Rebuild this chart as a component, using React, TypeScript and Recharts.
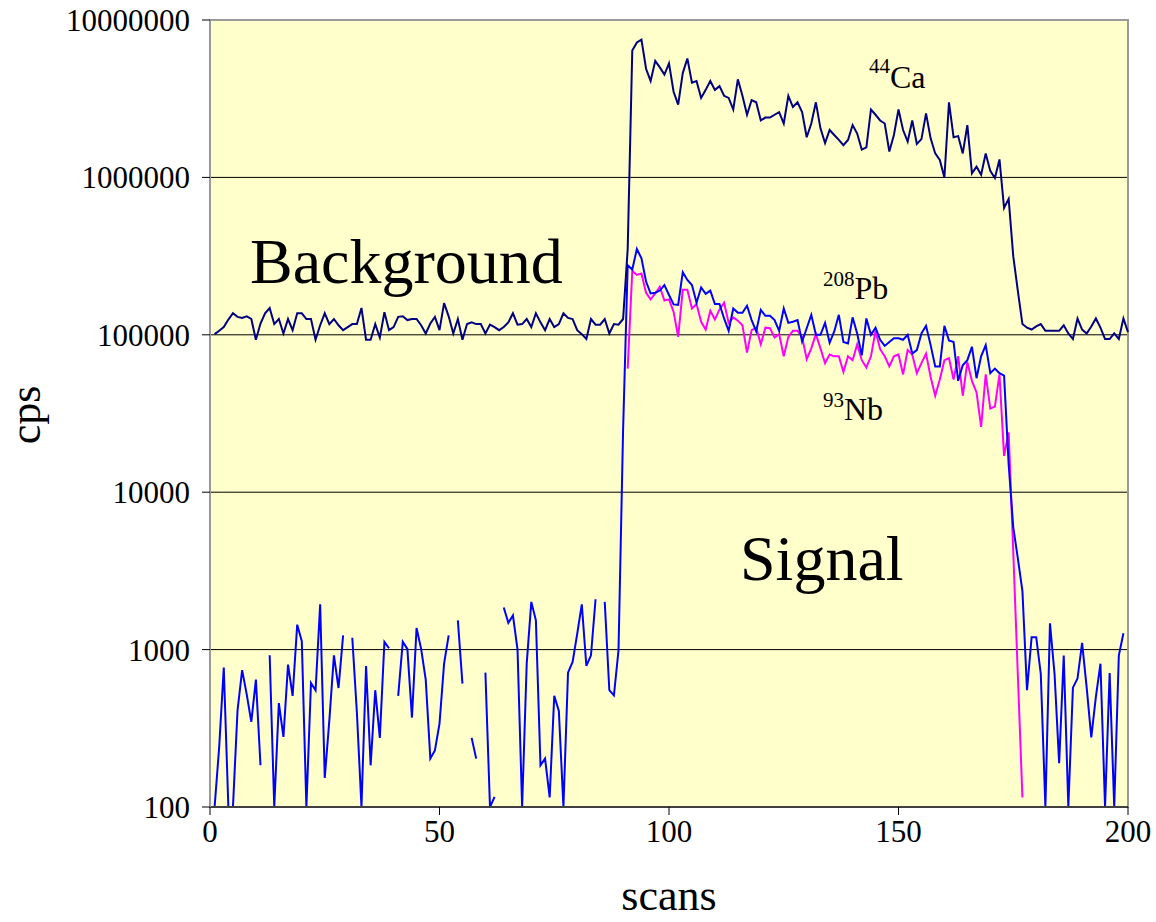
import { LineChart, Line, XAxis, YAxis, CartesianGrid, ReferenceArea } from 'recharts'

const SERIF = '"Liberation Serif", "Times New Roman", serif'

// scan numbers 1..200
const SCANS: number[] = Array.from({ length: 200 }, (_, i) => i + 1)

// 44Ca, scans 1-200
const CA44: number[] = [
  101000, 106000, 112000, 125000, 137000, 130000, 128000, 131000, 126000, 93000,
  118000, 137000, 148000, 117000, 126000, 102000, 126000, 107000, 137000, 137000,
  126000, 126000, 93000, 115000, 137000, 117000, 126000, 115000, 107000, 112000,
  117000, 117000, 148000, 93000, 93000, 117000, 96000, 139000, 107000, 112000,
  130000, 131000, 124000, 126000, 126000, 115000, 102000, 118000, 130000, 107000,
  159000, 131000, 102000, 126000, 93000, 117000, 120000, 117000, 117000, 102000,
  116000, 112000, 107000, 112000, 120000, 137000, 116000, 117000, 126000, 112000,
  137000, 120000, 107000, 126000, 112000, 117000, 137000, 128000, 126000, 107000,
  101000, 94000, 126000, 116000, 116000, 126000, 102000, 117000, 116000, 126000,
  350000, 6400000, 7200000, 7500000, 4900000, 4100000, 5500000, 5000000, 4500000, 5300000,
  3500000, 2900000, 4600000, 5700000, 4000000, 4100000, 3200000, 3600000, 4100000, 3600000,
  3800000, 3300000, 3200000, 2700000, 4200000, 3300000, 2500000, 3100000, 3000000, 2300000,
  2400000, 2400000, 2500000, 2600000, 2200000, 3300000, 2800000, 3000000, 2600000, 1800000,
  2200000, 3000000, 2050000, 1650000, 2000000, 1860000, 1730000, 1600000, 1730000, 2150000,
  1900000, 1500000, 1550000, 2700000, 2500000, 2300000, 2200000, 1460000, 1860000, 2700000,
  2000000, 1690000, 2300000, 1630000, 1750000, 2550000, 1770000, 1420000, 1290000, 1000000,
  3000000, 1800000, 1830000, 1420000, 2150000, 1060000, 1170000, 1040000, 1420000, 1100000,
  990000, 1300000, 640000, 730000, 316000, 190000, 117000, 111000, 108000, 113000,
  117000, 106000, 106000, 106000, 106000, 115000, 102000, 94000, 127000, 108000,
  102000, 113000, 127000, 111000, 94000, 94000, 102000, 94000, 127000, 104000,
]

// 208Pb, scans 1-199 (null = no value drawn)
const PB208: (number | null)[] = [
  100, 240, 770, 100, 100, 411, 740, 520, 347, 645,
  184, null, 920, 100, 457, 279, 803, 508, 1440, 1130,
  100, 614, 552, 1940, 153, 355, 920, 570, 1230, null,
  1190, 400, 100, 787, 184, 552, 275, 1120, 1020, null,
  508, 1120, 1010, 370, 1370, 1010, 645, 203, 229, 339,
  815, 1230, null, 1535, 608, null, 275, 203, null, 714,
  100, 116, null, 1850, 1480, 1650, 1000, 100, 815, 2010,
  1535, 184, 203, 115, 508, 408, 100, 714, 835, 1260,
  1940, 787, 920, 2090, null, 2010, 552, 512, 990, 25000,
  277000, 260000, 351000, 306000, 218000, 183000, 185000, 191000, 207000, 179000,
  156000, 155000, 250000, 223000, 207000, 160000, 200000, 182000, 191000, 157000,
  157000, 127000, 106000, 147000, 138000, 138000, 153000, 124000, 105000, 144000,
  132000, 132000, 124000, 106000, 147000, 119000, 121000, 124000, 90500, 110000,
  134000, 100000, 100000, 119000, 89000, 105000, 134000, 90000, 88000, 129000,
  102000, 74000, 127000, 100000, 111000, 93000, 85000, 90000, 95000, 95000,
  93000, 100000, 76000, 80000, 102000, 114000, 86000, 63000, 63000, 114000,
  92000, 90000, 51000, 64000, 69000, 84000, 53000, 73000, 86000, 57000,
  61000, 57000, 55000, 15000, 6000, 3800, 2350, 553, 1200, 1200,
  700, 100, 1470, 700, 190, 917, 100, 573, 655, 1105,
  573, 277, 500, 813, 100, 710, 100, 917, 1270,
]

// 93Nb, scans 91-177
const NB93_START = 91
const NB93: number[] = [
  61000, 255000, 240000, 245000, 185000, 168000, 183000, 202000, 165000, 168000,
  140000, 97000, 193000, 193000, 147000, 157000, 121000, 108000, 142000, 125000,
  145000, 160000, 119000, 129000, 123000, 115000, 77000, 107000, 111000, 87000,
  111000, 110000, 96000, 101000, 73000, 97000, 106000, 106000, 97000, 70000,
  82000, 101000, 82000, 66000, 75000, 73000, 73000, 58000, 73000, 69000,
  87000, 69000, 62000, 73000, 106000, 81000, 73000, 63000, 73000, 75000,
  56000, 80000, 75000, 57000, 66000, 76000, 54000, 41000, 52000, 69000,
  71000, 52000, 73000, 41000, 67000, 51000, 43000, 26000, 56000, 34000,
  35000, 56000, 17000, 24000, 4200, 690, 115,
]

const Y_TICKS = [100, 1000, 10000, 100000, 1000000, 10000000]
const X_TICKS = [0, 50, 100, 150, 200]

const rows = SCANS.map((scan, i) => {
  const k = scan - NB93_START
  return {
    scan,
    ca: CA44[i] ?? null,
    pb: PB208[i] ?? null,
    nb: k >= 0 && k < NB93.length ? NB93[k] : null,
  }
})

export default function App() {
  return (
    <div style={{ position: 'fixed', left: 0, top: 0, width: 1156, height: 922, background: '#fff' }}>
      <LineChart width={1156} height={922} data={rows} margin={{ top: 20, right: 28, left: 0, bottom: 0 }}>
        <CartesianGrid vertical={false} stroke="#000" strokeWidth={1} fill="#FFFFCC" />
        <XAxis
          type="number"
          dataKey="scan"
          domain={[0, 200]}
          ticks={X_TICKS}
          height={115}
          axisLine={{ stroke: '#404040', strokeWidth: 2 }}
          tickLine={{ stroke: '#000' }}
          tickSize={8}
          tickMargin={5}
          tick={{ fill: '#000', fontSize: 31, fontFamily: SERIF }}
        />
        <YAxis
          scale="log"
          domain={[100, 10000000]}
          allowDataOverflow
          ticks={Y_TICKS}
          width={210}
          interval={0}
          axisLine={{ stroke: '#9a9a9a', strokeWidth: 2 }}
          tickLine={{ stroke: '#000' }}
          tickSize={8}
          tickMargin={12}
          tickFormatter={(v: number) => String(v)}
          tick={{ fill: '#000', fontSize: 31, fontFamily: SERIF }}
        />
        <ReferenceArea x1={0} x2={200} y1={100} y2={10000000} fill="none" stroke="#9a9a9a" strokeWidth={2} />
        <Line type="linear" dataKey="nb" stroke="#FF00FF" strokeWidth={2} dot={false} connectNulls={false} isAnimationActive={false} />
        <Line type="linear" dataKey="pb" stroke="#0000FF" strokeWidth={2} dot={false} connectNulls={false} isAnimationActive={false} />
        <Line type="linear" dataKey="ca" stroke="#000080" strokeWidth={2} dot={false} connectNulls={false} isAnimationActive={false} />
      </LineChart>
      <svg width={1156} height={922} style={{ position: 'absolute', left: 0, top: 0, pointerEvents: 'none' }}>
        <g fontFamily={SERIF} fill="#000">
          <text x={40} y={415} fontSize={44} textAnchor="middle" transform="rotate(-90 40 415)">cps</text>
          <text x={669} y={910} fontSize={44} textAnchor="middle">scans</text>
          <text x={250} y={283} fontSize={64}>Background</text>
          <text x={740} y={580} fontSize={64}>Signal</text>
          <text x={869} y={88} fontSize={32}>
            <tspan fontSize={21} dy={-15}>44</tspan>
            <tspan dy={15}>Ca</tspan>
          </text>
          <text x={823} y={299} fontSize={32}>
            <tspan fontSize={21} dy={-13}>208</tspan>
            <tspan dy={13}>Pb</tspan>
          </text>
          <text x={823} y={420} fontSize={32}>
            <tspan fontSize={21} dy={-13}>93</tspan>
            <tspan dy={13}>Nb</tspan>
          </text>
        </g>
      </svg>
    </div>
  )
}
